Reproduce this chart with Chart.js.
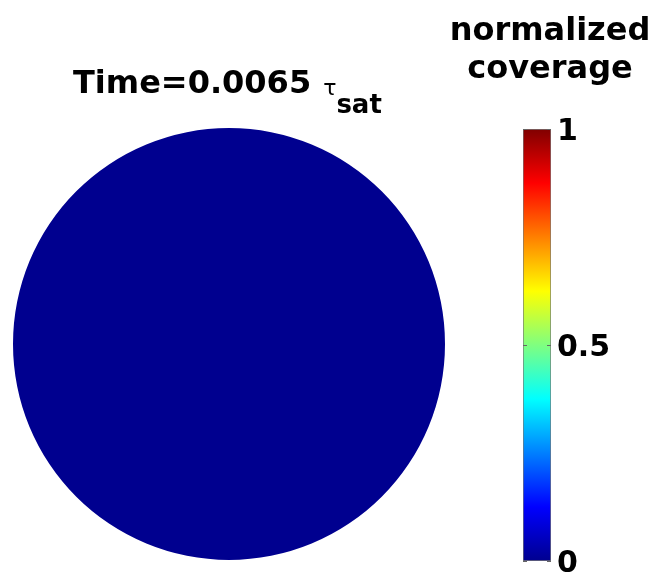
<!DOCTYPE html>
<html>
<head>
<meta charset="utf-8">
<script src="https://cdn.jsdelivr.net/npm/chart.js@4.4.0/dist/chart.umd.min.js"></script>
<style>
  html, body { margin: 0; padding: 0; background: #fff; }
  #wrap { position: relative; width: 658px; height: 579px; overflow: hidden; }
  #disk { position: absolute; left: 0; top: 0; }
  #cbar { position: absolute; left: 440px; top: 0; }
</style>
</head>
<body>
<div id="wrap">
  <canvas id="disk" width="458" height="579"></canvas>
  <canvas id="cbar" width="218" height="579"></canvas>
</div>
<script>
// Data
const TIME_VALUE = '0.0065';
const TIME_UNIT = 'τ';
const TIME_UNIT_SUB = 'sat';
const diskCoverage = [0];      // uniform normalized coverage over the disk
const diskShare = [1];         // one slice = full disk
const colorbarRange = [0, 1];
const colorbarTicks = [0, 0.5, 1];
const colorbarTitle = ['normalized', 'coverage'];

// Styles
const FONT = "'DejaVu Sans', Verdana, sans-serif";
const TEXT_COLOR = '#000';
const JET_STOPS = [
  [0, [0, 0, 143]],
  [0.125, [0, 0, 255]],
  [0.375, [0, 255, 255]],
  [0.625, [255, 255, 0]],
  [0.875, [255, 0, 0]],
  [1, [128, 0, 0]]
];

const jet = (v) => {
  const t = Math.min(1, Math.max(0, (v - colorbarRange[0]) / (colorbarRange[1] - colorbarRange[0])));
  for (let i = 1; i < JET_STOPS.length; i++) {
    const [t1, c1] = JET_STOPS[i];
    const [t0, c0] = JET_STOPS[i - 1];
    if (t <= t1) {
      const f = (t - t0) / (t1 - t0);
      const c = c0.map((x, k) => Math.round(x + (c1[k] - x) * f));
      return `rgb(${c[0]},${c[1]},${c[2]})`;
    }
  }
  return 'rgb(128,0,0)';
};

// Title with subscript, drawn on the disk chart
const timeTitlePlugin = {
  id: 'timeTitle',
  afterDraw(chart) {
    const ctx = chart.ctx;
    ctx.save();
    ctx.fillStyle = TEXT_COLOR;
    ctx.textBaseline = 'alphabetic';
    ctx.textAlign = 'left';
    ctx.font = `bold 32px ${FONT}`;
    const main = `Time=${TIME_VALUE}`;
    ctx.fillText(main, 73, 93);
    const x1 = 73 + ctx.measureText(main).width + 12;
    ctx.font = `22px ${FONT}`;
    ctx.fillText(TIME_UNIT, x1, 95);
    const x2 = x1 + ctx.measureText(TIME_UNIT).width;
    ctx.font = `bold 26px ${FONT}`;
    ctx.fillText(TIME_UNIT_SUB, x2, 113);
    ctx.restore();
  }
};

new Chart(document.getElementById('disk'), {
  type: 'pie',
  data: {
    labels: ['coverage'],
    datasets: [{
      data: diskShare,
      backgroundColor: diskCoverage.map(jet),
      borderWidth: 0,
      hoverOffset: 0
    }]
  },
  options: {
    responsive: false,
    animation: false,
    layout: { padding: { left: 13, right: 13, top: 128, bottom: 19 } },
    plugins: {
      legend: { display: false },
      tooltip: { enabled: false }
    }
  },
  plugins: [timeTitlePlugin]
});

// Colorbar title (two centred lines) and small inner tick marks
const colorbarDecorPlugin = {
  id: 'colorbarDecor',
  afterDatasetsDraw(chart) {
    const { ctx, chartArea, scales } = chart;
    ctx.save();
    ctx.strokeStyle = '#666';
    ctx.lineWidth = 1;
    colorbarTicks.forEach(v => {
      const y = Math.round(scales.y.getPixelForValue(v)) + 0.5;
      ctx.beginPath();
      ctx.moveTo(chartArea.left, y);
      ctx.lineTo(chartArea.left + 4, y);
      ctx.moveTo(chartArea.right - 4, y);
      ctx.lineTo(chartArea.right, y);
      ctx.stroke();
    });
    ctx.fillStyle = TEXT_COLOR;
    ctx.textAlign = 'center';
    ctx.textBaseline = 'alphabetic';
    ctx.font = `bold 32px ${FONT}`;
    colorbarTitle.forEach((line, i) => ctx.fillText(line, 110, 40 + i * 38));
    ctx.restore();
  }
};

new Chart(document.getElementById('cbar'), {
  type: 'bar',
  data: {
    labels: [''],
    datasets: [{
      data: [colorbarRange[1]],
      backgroundColor: (c) => {
        const area = c.chart.chartArea;
        if (!area) return jet(0);
        const g = c.chart.ctx.createLinearGradient(0, area.bottom, 0, area.top);
        JET_STOPS.forEach(([t, col]) => g.addColorStop(t, `rgb(${col[0]},${col[1]},${col[2]})`));
        return g;
      },
      borderColor: '#777',
      borderWidth: 1,
      borderSkipped: false,
      barPercentage: 1,
      categoryPercentage: 1
    }]
  },
  options: {
    responsive: false,
    animation: false,
    layout: { padding: { left: 83, right: 0, top: 129, bottom: 18 } },
    scales: {
      x: { display: false },
      y: {
        position: 'right',
        min: colorbarRange[0],
        max: colorbarRange[1],
        afterBuildTicks: (scale) => { scale.ticks = colorbarTicks.map(v => ({ value: v })); },
        afterFit: (scale) => {
          scale.width = 107;
          scale.paddingTop = 0;
          scale.paddingBottom = 0;
        },
        grid: { display: false, drawTicks: false },
        border: { display: false },
        ticks: {
          padding: 6,
          labelOffset: 3,
          color: TEXT_COLOR,
          callback: (v) => String(v),
          font: { family: FONT, size: 30, weight: 'bold' }
        }
      }
    },
    plugins: {
      legend: { display: false },
      tooltip: { enabled: false }
    }
  },
  plugins: [colorbarDecorPlugin]
});
</script>
</body>
</html>
